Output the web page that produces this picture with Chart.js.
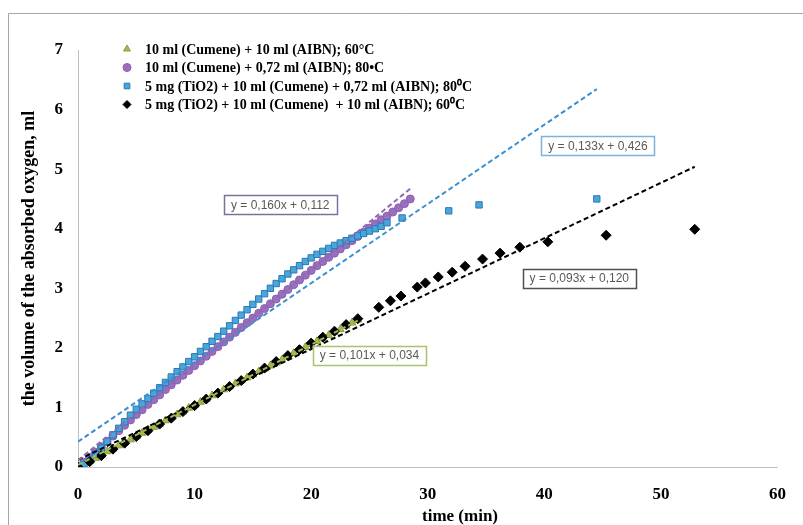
<!DOCTYPE html>
<html lang="en">
<head>
  <meta charset="UTF-8">
  <title>Oxygen absorption</title>
  <script src="https://cdn.jsdelivr.net/npm/chart.js"></script>
  <style>
    body { margin: 0; background: #fff; }
    canvas { display: block; }
  </style>
</head>
<body>
  <canvas id="chart" width="803" height="525"></canvas>

  <script>
    // series labels
    const seriesNames = [
      '10 ml (Cumene) + 10 ml (AIBN); 60°C',
      '10 ml (Cumene) + 0,72 ml (AIBN); 80•C',
      '5 mg (TiO2) + 10 ml (Cumene) + 0,72 ml (AIBN); 80⁰C',
      '5 mg (TiO2) + 10 ml (Cumene)  + 10 ml (AIBN); 60⁰C'
    ];

    // time (min) / volume (ml)
    const greenTime = [0, 0.5, 1, 1.5, 2, 2.5, 3, 3.5, 4, 4.5, 5, 5.5, 6, 6.5, 7, 7.5, 8, 8.5, 9, 9.5, 10, 10.5, 11, 11.5, 12, 12.5, 13, 13.5, 14, 14.5, 15, 15.5, 16, 16.5, 17, 17.5, 18, 18.5, 19, 19.5, 20, 20.5, 21, 21.5, 22, 22.5, 23, 23.5, 24];
    const greenVol = [0.00, 0.05, 0.10, 0.15, 0.20, 0.26, 0.31, 0.36, 0.41, 0.46, 0.51, 0.57, 0.62, 0.67, 0.72, 0.78, 0.83, 0.88, 0.93, 0.99, 1.04, 1.09, 1.14, 1.20, 1.25, 1.30, 1.35, 1.40, 1.45, 1.50, 1.55, 1.60, 1.65, 1.70, 1.75, 1.80, 1.85, 1.91, 1.96, 2.01, 2.06, 2.11, 2.16, 2.21, 2.26, 2.31, 2.37, 2.42, 2.47];

    const purpleTime = [0, 0.5, 1, 1.5, 2, 2.5, 3, 3.5, 4, 4.5, 5, 5.5, 6, 6.5, 7, 7.5, 8, 8.5, 9, 9.5, 10, 10.5, 11, 11.5, 12, 12.5, 13, 13.5, 14, 14.5, 15, 15.5, 16, 16.5, 17, 17.5, 18, 18.5, 19, 19.5, 20, 20.5, 21, 21.5, 22, 22.5, 23, 23.5, 24, 24.5, 25, 25.5, 26, 26.5, 27, 27.5, 28, 28.5];
    const purpleVol = [0.00, 0.08, 0.16, 0.25, 0.34, 0.43, 0.52, 0.61, 0.70, 0.79, 0.88, 0.96, 1.05, 1.13, 1.21, 1.30, 1.38, 1.46, 1.54, 1.62, 1.70, 1.78, 1.86, 1.94, 2.02, 2.10, 2.18, 2.26, 2.34, 2.42, 2.50, 2.58, 2.66, 2.74, 2.82, 2.90, 2.98, 3.06, 3.14, 3.22, 3.30, 3.38, 3.45, 3.52, 3.59, 3.66, 3.73, 3.80, 3.87, 3.94, 4.01, 4.08, 4.15, 4.21, 4.28, 4.35, 4.42, 4.50];

    const blueTime = [0, 0.5, 1, 1.5, 2, 2.5, 3, 3.5, 4, 4.5, 5, 5.5, 6, 6.5, 7, 7.5, 8, 8.5, 9, 9.5, 10, 10.5, 11, 11.5, 12, 12.5, 13, 13.5, 14, 14.5, 15, 15.5, 16, 16.5, 17, 17.5, 18, 18.5, 19, 19.5, 20, 20.5, 21, 21.5, 22, 22.5, 23, 23.5, 24, 24.5, 25, 25.5, 26, 26.5, 27.8, 31.8, 34.4, 44.5];
    const blueVol = [0.00, 0.05, 0.12, 0.22, 0.32, 0.43, 0.54, 0.65, 0.76, 0.87, 0.97, 1.06, 1.15, 1.24, 1.33, 1.42, 1.51, 1.60, 1.68, 1.77, 1.85, 1.94, 2.02, 2.11, 2.19, 2.28, 2.37, 2.46, 2.55, 2.64, 2.73, 2.82, 2.91, 3.00, 3.08, 3.16, 3.24, 3.31, 3.38, 3.45, 3.51, 3.57, 3.62, 3.67, 3.72, 3.76, 3.80, 3.84, 3.88, 3.92, 3.96, 4.00, 4.04, 4.10, 4.18, 4.30, 4.40, 4.50];

    const blackTime = [0, 1, 2, 3, 4, 5, 6, 7, 8, 9, 10, 11, 12, 13, 14, 15, 16, 17, 18, 19, 20, 21, 22, 23, 24, 25.8, 26.8, 27.7, 29.1, 29.8, 30.9, 32.1, 33.2, 34.7, 36.2, 37.9, 40.3, 45.3, 52.9];
    const blackVol = [0.00, 0.09, 0.19, 0.30, 0.40, 0.51, 0.61, 0.72, 0.82, 0.93, 1.03, 1.14, 1.24, 1.35, 1.45, 1.56, 1.66, 1.77, 1.87, 1.97, 2.08, 2.18, 2.28, 2.39, 2.49, 2.68, 2.79, 2.87, 3.02, 3.09, 3.19, 3.27, 3.37, 3.49, 3.59, 3.69, 3.78, 3.89, 3.99];

    // linear trendlines as printed on the chart (green, purple, blue, black)
    const trendSlope = [0.101, 0.160, 0.133, 0.093];
    const trendIntercept = [0.034, 0.112, 0.426, 0.120];
    const trendText = ['y = 0,101x + 0,034', 'y = 0,160x + 0,112', 'y = 0,133x + 0,426', 'y = 0,093x + 0,120'];

    const xTicks = [0, 10, 20, 30, 40, 50, 60];
    const yTicks = [0, 1, 2, 3, 4, 5, 6, 7];

    const serif = "'Liberation Serif', 'Times New Roman', serif";
    const times = [greenTime, purpleTime, blueTime, blackTime];
    const vols = [greenVol, purpleVol, blueVol, blackVol];
    const pts = (t, v) => t.map((x, i) => ({ x: x, y: v[i] }));

    const styles = [
      { pointStyle: 'triangle', radius: 4.5, fill: '#a8b84c', border: '#8c9c38', trend: '#9bbb59' },
      { pointStyle: 'circle', radius: 4, fill: '#9a6fc0', border: '#8a5fb0', trend: '#8e6bb0' },
      { pointStyle: 'rect', radius: 4.5, fill: '#49a6d8', border: '#2c78b8', trend: '#3a8fd0' },
      { pointStyle: 'rectRot', radius: 5, fill: '#000', border: '#000', trend: '#000' }
    ];

    const datasets = [];
    styles.forEach((s, i) => {
      datasets.push({
        label: seriesNames[i],
        data: pts(times[i], vols[i]),
        showLine: false,
        pointStyle: s.pointStyle,
        pointRadius: s.radius,
        pointBackgroundColor: s.fill,
        pointBorderColor: s.border,
        pointBorderWidth: 1,
        order: 10 - i
      });
    });
    styles.forEach((s, i) => {
      const tEnd = times[i][times[i].length - 1];
      datasets.push({
        label: 'trend ' + i,
        data: [0, tEnd].map(x => ({ x: x, y: trendSlope[i] * x + trendIntercept[i] })),
        showLine: true,
        borderColor: s.trend,
        borderWidth: 2,
        borderDash: [5, 3],
        pointRadius: 0,
        order: 1
      });
    });

    // equation boxes, centre in data units, border colour
    const eqBoxes = [
      { i: 0, x: 25.0, y: 1.88, color: '#a8c46c' },
      { i: 1, x: 17.35, y: 4.40, color: '#7f6f9f' },
      { i: 2, x: 44.6, y: 5.39, color: '#7fb2d8' },
      { i: 3, x: 43.0, y: 3.17, color: '#505050' }
    ];

    const decor = {
      id: 'decor',
      beforeDraw(chart) {
        const ctx = chart.ctx;
        ctx.save();
        ctx.strokeStyle = '#a6a6a6';
        ctx.lineWidth = 1;
        ctx.beginPath();
        ctx.moveTo(8.5, 530);
        ctx.lineTo(8.5, 13.5);
        ctx.lineTo(810, 13.5);
        ctx.stroke();
        ctx.restore();
      },
      afterDraw(chart) {
        const ctx = chart.ctx;
        const xs = chart.scales.x, ys = chart.scales.y;
        ctx.save();
        // equations
        ctx.font = "12px 'Liberation Sans', Arial, sans-serif";
        ctx.textAlign = 'center';
        ctx.textBaseline = 'middle';
        eqBoxes.forEach(b => {
          const cx = xs.getPixelForValue(b.x), cy = ys.getPixelForValue(b.y);
          const w = ctx.measureText(trendText[b.i]).width + 14, h = 19;
          ctx.fillStyle = '#fff';
          ctx.fillRect(cx - w / 2, cy - h / 2, w, h);
          ctx.strokeStyle = b.color;
          ctx.lineWidth = 1.5;
          ctx.strokeRect(Math.round(cx - w / 2) + 0.5, Math.round(cy - h / 2) + 0.5, Math.round(w), h);
          ctx.fillStyle = '#595959';
          ctx.fillText(trendText[b.i], cx, cy + 1);
        });
        // x axis title, sits right of centre in the original
        ctx.font = 'bold 17px ' + serif;
        ctx.fillStyle = '#000';
        ctx.fillText('time (min)', 460, 517);
        // legend
        ctx.font = 'bold 14px ' + serif;
        ctx.textAlign = 'left';
        const lx = 127, ly = 49, step = 18.5;
        styles.forEach((s, i) => {
          const y = ly + i * step;
          ctx.fillStyle = s.fill;
          ctx.strokeStyle = s.border;
          ctx.lineWidth = 1;
          Chart.helpers.drawPoint(ctx, { pointStyle: s.pointStyle, radius: 4, borderWidth: 1, rotation: 0 }, lx, y);
          ctx.fillStyle = '#000';
          ctx.fillText(seriesNames[i], lx + 18, y + 1);
        });
        ctx.restore();
      }
    };

    new Chart(document.getElementById('chart'), {
      type: 'scatter',
      data: { datasets: datasets },
      plugins: [decor],
      options: {
        responsive: false,
        animation: false,
        layout: { padding: { top: 50, right: 23, left: 0, bottom: 0 } },
        plugins: { legend: { display: false }, tooltip: { enabled: false } },
        scales: {
          x: {
            type: 'linear',
            min: 0, max: 60,
            afterBuildTicks: sc => { sc.ticks = xTicks.map(v => ({ value: v })); },
            afterFit: sc => { sc.height = 58; },
            grid: { display: false, drawTicks: false },
            border: { color: '#bfbfbf', width: 1 },
            ticks: { color: '#000', padding: 17, font: { family: serif, size: 17, weight: 'bold' } }
          },
          y: {
            min: 0, max: 7,
            afterBuildTicks: sc => { sc.ticks = yTicks.map(v => ({ value: v })); },
            afterFit: sc => { sc.width = 78; },
            grid: { display: false, drawTicks: false },
            border: { color: '#bfbfbf', width: 1 },
            ticks: { color: '#000', padding: 15, font: { family: serif, size: 17, weight: 'bold' } },
            title: { display: true, text: 'the volume of the absorbed oxygen, ml', color: '#000', padding: { top: 19, bottom: 0 }, font: { family: serif, size: 18, weight: 'bold' } }
          }
        }
      }
    });
  </script>
</body>
</html>
